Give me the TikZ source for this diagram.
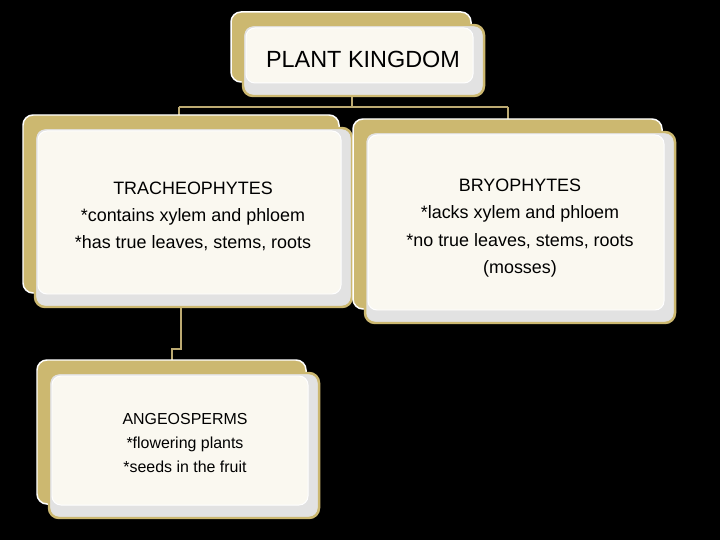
\documentclass[tikz,border=0pt]{standalone}
\usepackage{fontspec}
\setmainfont{Liberation Sans}
\definecolor{tan}{HTML}{CCB870}
\definecolor{linetan}{HTML}{BCAA72}
\definecolor{shade}{HTML}{E2E2E2}
\definecolor{cream}{HTML}{FAF8F0}
\tikzset{
  backbox/.style={fill=tan, draw=white, line width=1.5pt, rounded corners=10pt},
  frontbox/.style={fill=shade, draw=tan, line width=2.5pt, rounded corners=10pt},
  innerbox/.style={fill=cream, draw=white, line width=1pt, rounded corners=9pt},
  conn/.style={draw=linetan, line width=2pt},
  txt/.style={align=center, text=black, inner sep=0pt}
}
\newcommand{\plantbox}[4]{%
  \path[backbox] (#1,#2) rectangle (#3,#4);
  \path[frontbox] (#1+12,#2+13) rectangle (#3+13,#4+14);
  \path[innerbox] (#1+15,#2+16) rectangle (#3+2,#4+1);
}
\begin{document}
\begin{tikzpicture}[x=1bp,y=-1bp]
\fill[black] (0,0) rectangle (720,540);
\useasboundingbox (0,0) rectangle (720,540);

% connectors (behind boxes)
\coordinate (c0) at (352,95);
\coordinate (c1) at (352,107);
\coordinate (cl) at (179,107);
\coordinate (cr) at (508,107);
\coordinate (clb) at (179,116);
\coordinate (crb) at (508,120);
\draw[conn] (c0) -- (c1);
\draw[conn] (cl) -- (cr);
\draw[conn] (cl) -- (clb);
\draw[conn] (cr) -- (crb);
\coordinate (d0) at (181,305);
\coordinate (d1) at (181,349);
\coordinate (d2) at (172,349);
\coordinate (d3) at (172,361);
\draw[conn] (d0) -- (d1) -- (d2) -- (d3);

% boxes
\plantbox{231}{12}{471}{82}
\plantbox{23}{115}{339}{293}
\plantbox{353}{119}{662}{309}
\plantbox{37}{360}{306}{504}

% texts
\node[txt, font=\fontsize{23.5}{28}\selectfont] (top) at (363,59) {PLANT KINGDOM};
\node[txt, font=\fontsize{18}{27}\selectfont] (trach) at (193,216)
  {TRACHEOPHYTES\\*contains xylem and phloem\\*has true leaves, stems, roots};
\node[txt, font=\fontsize{18}{27.5}\selectfont] (bryo) at (520,228)
  {BRYOPHYTES\\*lacks xylem and phloem\\*no true leaves, stems, roots\\(mosses)};
\node[txt, font=\fontsize{16}{24.5}\selectfont] (angio) at (185,443)
  {ANGEOSPERMS\\*flowering plants\\*seeds in the fruit};
\end{tikzpicture}
\end{document}
